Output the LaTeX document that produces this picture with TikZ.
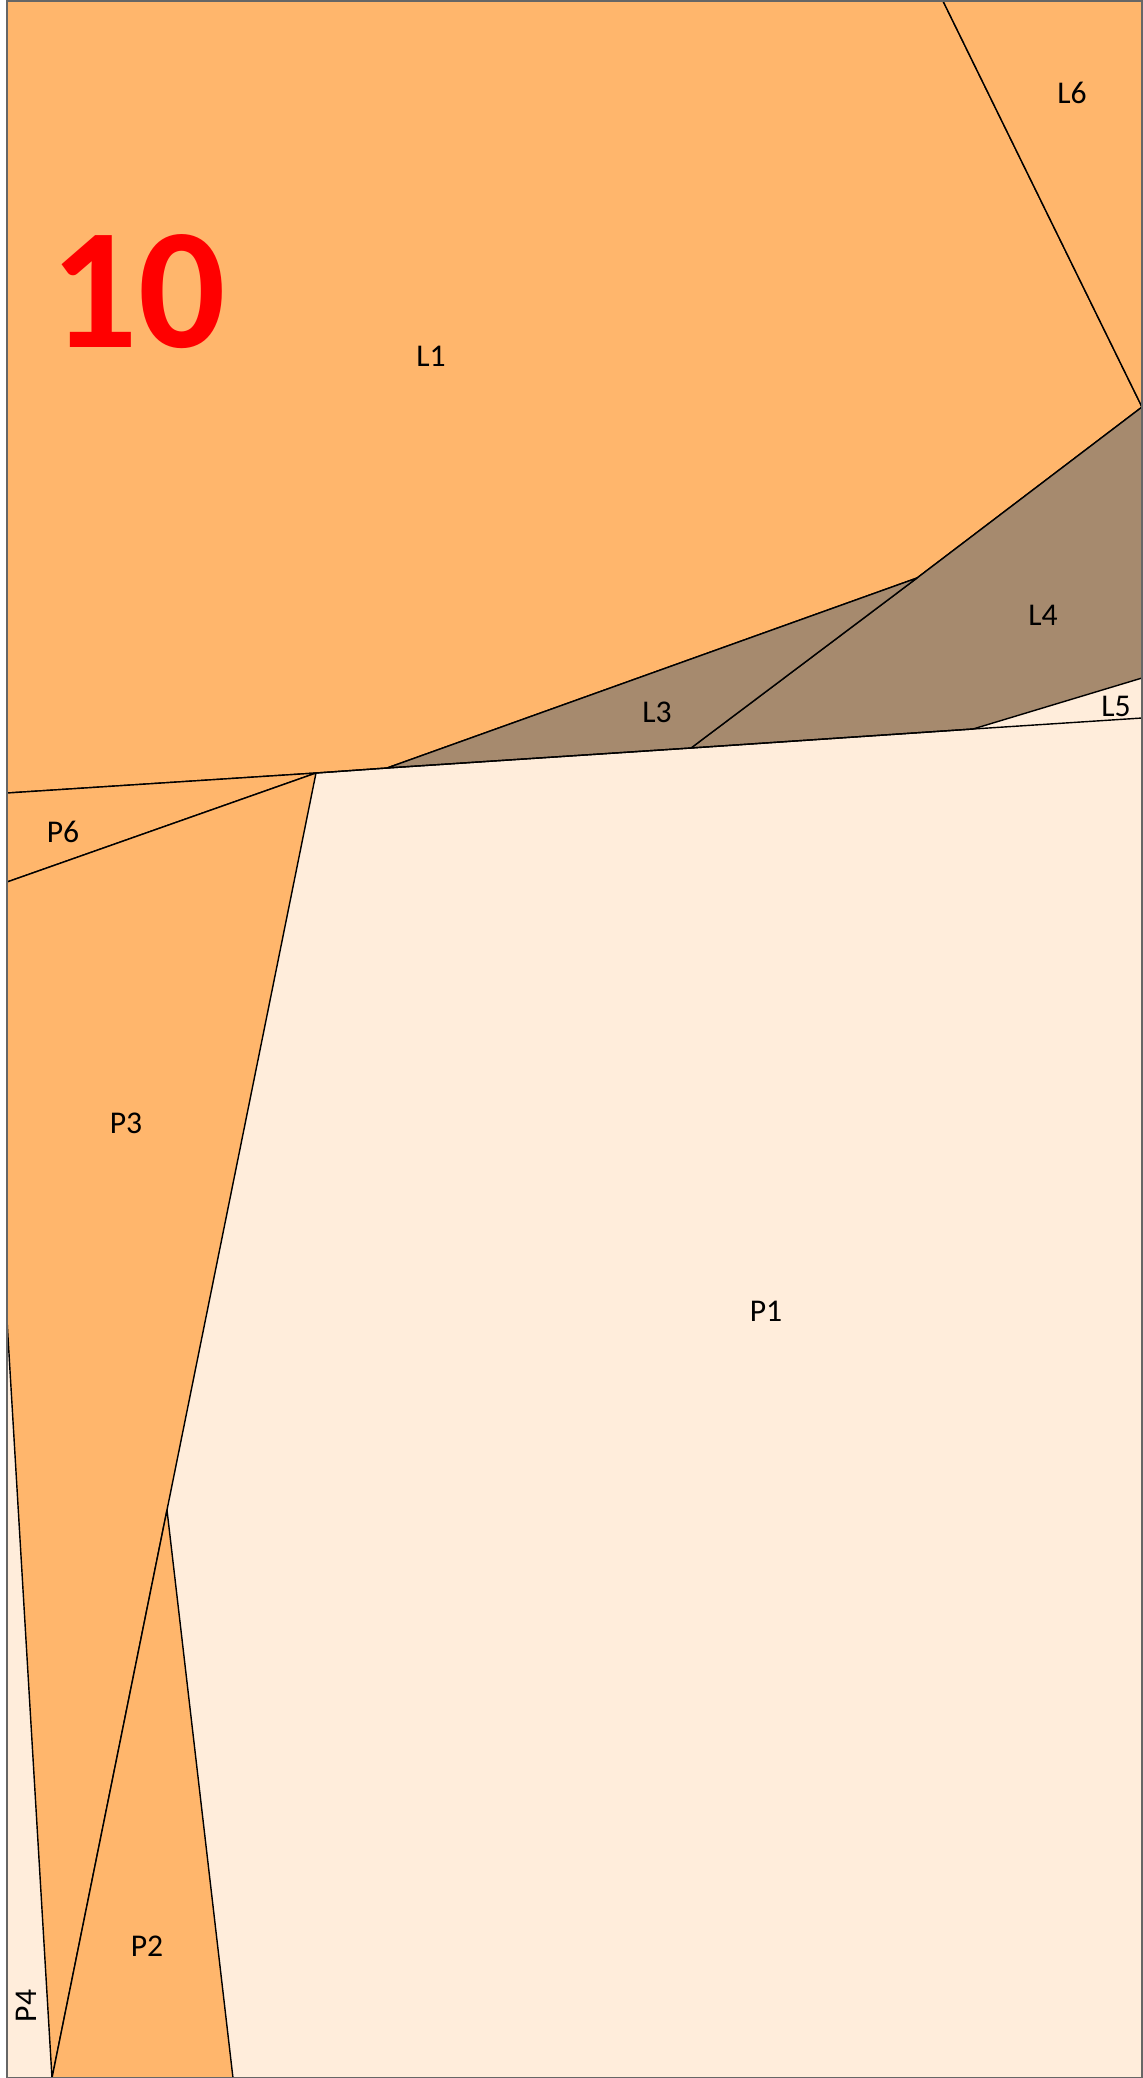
\documentclass[tikz,border=0pt]{standalone}
\usepackage{fontspec}
\setmainfont{Carlito}
\usetikzlibrary{positioning}
\definecolor{pcorange}{RGB}{255, 182, 108}
\definecolor{pccream}{RGB}{255, 237, 219}
\definecolor{pcbrown}{RGB}{166, 138, 110}

\begin{document}
\begin{tikzpicture}[x=0.01cm, y=-0.01cm,
  piece/.style={draw=black, line width=0.4pt, line join=round},
  tag/.style={font=\fontsize{9}{10}\selectfont, inner sep=0pt}]

  \useasboundingbox (0,0) rectangle (1143,2078);

  % --- corner points of the pieces ---
  \coordinate (tl) at (7,1);
  \coordinate (tr) at (1142,1);
  \coordinate (br) at (1142,2078);
  \coordinate (l6top) at (943,1);
  \coordinate (rA) at (1142,407);
  \coordinate (kink) at (917,578);
  \coordinate (l3a) at (387,768);
  \coordinate (apex) at (316,773);
  \coordinate (lA) at (7,793);
  \coordinate (lB) at (7,882);
  \coordinate (l3b) at (691,748);
  \coordinate (l5a) at (973,729);
  \coordinate (rB) at (1142,678);
  \coordinate (rC) at (1142,718);
  \coordinate (lC) at (7,1320);
  \coordinate (cross) at (167,1510);
  \coordinate (b1) at (52,2078);
  \coordinate (b2) at (233,2078);

  % --- light background (P1, P4, L5) ---
  \fill[pccream] (tl) rectangle (br);

  % --- upper pieces ---
  \filldraw[piece, fill=pcorange] (tl) -- (l6top) -- (rA) -- (kink) -- (l3a) -- (apex) -- (lA) -- cycle;
  \filldraw[piece, fill=pcorange] (l6top) -- (tr) -- (rA) -- cycle;
  \filldraw[piece, fill=pcbrown] (rA) -- (kink) -- (l3b) -- (l5a) -- (rB) -- cycle;
  \filldraw[piece, fill=pcbrown] (l3a) -- (kink) -- (l3b) -- cycle;
  \draw[piece] (apex) -- (l3a) -- (l3b) -- (l5a) -- (rC);

  % --- left pieces ---
  \filldraw[piece, fill=pcorange] (lA) -- (apex) -- (lB) -- cycle;
  \filldraw[piece, fill=pcorange] (lB) -- (apex) -- (cross) -- (b1) -- (lC) -- cycle;
  \filldraw[piece, fill=pcorange] (cross) -- (b1) -- (b2) -- cycle;

  % --- frame ---
  \draw[black!60, line width=0.5pt] (tl) rectangle (br);

  % --- labels ---
  \node[font=\fontsize{49}{56}\selectfont\bfseries, text=red, inner sep=0pt] (num) at (138,292) {10};
  \node[tag] (L1) at (431,356) {L1};
  \node[tag] (L6) at (1072,93) {L6};
  \node[tag] (L4) at (1043,615) {L4};
  \node[tag] (L3) at (657,712) {L3};
  \node[tag] (L5) at (1116,706) {L5};
  \node[tag] (P6) at (63,832) {P6};
  \node[tag] (P3) at (126,1123) {P3};
  \node[tag] (P1) at (766,1311) {P1};
  \node[tag] (P2) at (147,1946) {P2};
  \node[tag, rotate=90] (P4) at (26,2006) {P4};

\end{tikzpicture}
\end{document}
